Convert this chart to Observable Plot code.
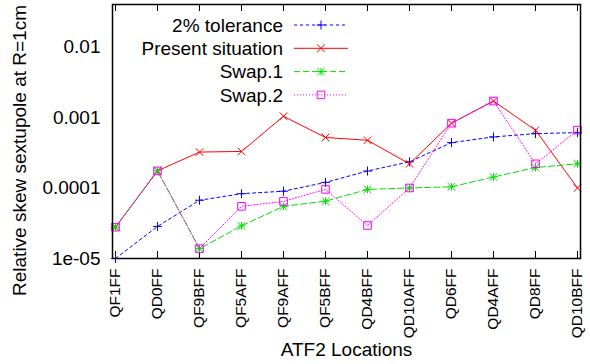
<!DOCTYPE html>
<html><head><meta charset="utf-8">
<script src="https://cdn.jsdelivr.net/npm/d3@7"></script>
<script src="https://cdn.jsdelivr.net/npm/@observablehq/plot@0.6"></script>
<style>body{margin:0;background:#fff} svg{display:block}</style>
</head><body><div id="chart"></div>
<script>
const locations = ["QF1FF","QD0FF","QF9BFF","QF5AFF","QF9AFF","QF5BFF","QD4BFF","QD10AFF","QD6FF","QD4AFF","QD8FF","QD10BFF"];
const tolerance2 = [1.0e-5, 2.85e-5, 6.7e-5, 8.3e-5, 9.0e-5, 1.2e-4, 1.74e-4, 2.35e-4, 4.4e-4, 5.3e-4, 5.9e-4, 6.1e-4];
const present    = [2.78e-5, 1.75e-4, 3.23e-4, 3.3e-4, 1.04e-3, 5.2e-4, 4.75e-4, 2.2e-4, 8.3e-4, 1.71e-3, 6.6e-4, 1.0e-4];
const swap1      = [2.78e-5, 1.75e-4, 1.38e-5, 2.9e-5, 5.5e-5, 6.5e-5, 9.55e-5, 1.0e-4, 1.04e-4, 1.43e-4, 1.95e-4, 2.2e-4];
const swap2      = [2.78e-5, 1.75e-4, 1.38e-5, 5.5e-5, 6.45e-5, 9.55e-5, 2.94e-5, 1.0e-4, 8.3e-4, 1.71e-3, 2.2e-4, 6.6e-4];
const seriesNames = ["2% tolerance","Present situation","Swap.1","Swap.2"];
const yTickValues = [1e-5, 1e-4, 1e-3, 1e-2];
const yTickLabels = ["1e-05","0.0001","0.001","0.01"];
const xLabel = "ATF2 Locations";
const yLabel = "Relative skew sextupole at R=1cm";

// gnuplot-like point symbols (r = half extent in px)
const rad = size => Math.sqrt(size / Math.PI);
const symPlus = {draw(c, s){const r = rad(s); c.moveTo(-r,0); c.lineTo(r,0); c.moveTo(0,-r); c.lineTo(0,r);}};
const symTimes = {draw(c, s){const r = rad(s); c.moveTo(-r,-r); c.lineTo(r,r); c.moveTo(-r,r); c.lineTo(r,-r);}};
const symSquare = {draw(c, s){const r = rad(s); c.moveTo(-r,-r); c.lineTo(r,-r); c.lineTo(r,r); c.lineTo(-r,r); c.closePath();}};

const series = [
  {name: seriesNames[0], values: tolerance2, color: "#0000ff", dash: "3,3", symbols: [symPlus], r: 4.5},
  {name: seriesNames[1], values: present, color: "#ff0000", dash: null, symbols: [symTimes], r: 3.8},
  {name: seriesNames[2], values: swap1, color: "#00e000", dash: "6,3", symbols: [symPlus, symTimes], r: 3.8},
  {name: seriesNames[3], values: swap2, color: "#ff00ff", dash: "1,2", symbols: [symSquare], r: 3.8}
];

const W = 590, H = 364;
const mL = 112, mR = 10, mT = 4, mB = 106;
const yDomain = [1e-5, 0.04];

// minor log ticks
const minor = [];
for (let e = -5; e <= -2; e++) for (let k = 2; k <= 9; k++) {
  const v = k * Math.pow(10, e);
  if (v < yDomain[1]) minor.push(v);
}
const first = locations[0], last = locations[locations.length - 1];

const marks = [];
// ticks (inward, mirrored)
marks.push(Plot.ruleY(yTickValues, {y: d => d, x1: first, x2: first, insetRight: -7, stroke: "black"}));
marks.push(Plot.ruleY(yTickValues, {y: d => d, x1: last, x2: last, insetLeft: -7, stroke: "black"}));
marks.push(Plot.ruleY(minor, {y: d => d, x1: first, x2: first, insetRight: -3.5, stroke: "black"}));
marks.push(Plot.ruleY(minor, {y: d => d, x1: last, x2: last, insetLeft: -3.5, stroke: "black"}));
marks.push(Plot.ruleX(locations, {x: d => d, y1: yDomain[0], y2: yDomain[0], insetBottom: 7, stroke: "black"}));
marks.push(Plot.ruleX(locations, {x: d => d, y1: yDomain[1], y2: yDomain[1], insetBottom: -7, stroke: "black"}));

series.forEach(s => {
  const data = locations.map((loc, i) => ({loc, v: s.values[i]}));
  marks.push(Plot.line(data, {x: "loc", y: "v", stroke: s.color, strokeWidth: 1, strokeDasharray: s.dash}));
  s.symbols.forEach(sym => marks.push(Plot.dot(data, {x: "loc", y: "v", symbol: sym, r: s.r, stroke: s.color, fill: "none", strokeWidth: 1})));
});

marks.push(Plot.frame({stroke: "black", strokeWidth: 1.5}));
marks.push(Plot.axisY({ticks: yTickValues, tickFormat: d => yTickLabels[yTickValues.indexOf(d)], tickSize: 0, tickPadding: 12, fontSize: 19, label: null}));
marks.push(Plot.axisX({tickSize: 0, tickPadding: 10, tickRotate: -90, fontSize: 15.5, label: null}));
marks.push(Plot.text([xLabel], {text: d => d, frameAnchor: "bottom", dy: 97, lineAnchor: "bottom", textAnchor: "middle", fontSize: 19}));
marks.push(Plot.text([yLabel], {text: d => d, frameAnchor: "left", rotate: -90, dx: -87, dy: 19, lineAnchor: "bottom", textAnchor: "middle", fontSize: 19}));

const plot = Plot.plot({
  width: W, height: H,
  marginLeft: mL, marginRight: mR, marginTop: mT, marginBottom: mB,
  style: {fontFamily: "'Liberation Sans', Arial, sans-serif", fontSize: "19px", background: "white", color: "black"},
  x: {type: "point", domain: locations, padding: 0, inset: 0},
  y: {type: "log", domain: yDomain},
  marks
});

// legend (inside top-left of the frame, gnuplot style)
const svg = d3.select(plot);
const lg = svg.append("g").attr("font-size", 19).attr("fill", "black");
series.forEach((s, i) => {
  const cy = 25 + i * 23.3;
  lg.append("text").attr("x", 283).attr("y", cy).attr("dy", "0.35em").attr("text-anchor", "end").text(s.name);
  lg.append("line").attr("x1", 294).attr("x2", 348).attr("y1", cy).attr("y2", cy)
    .attr("stroke", s.color).attr("stroke-width", 1).attr("stroke-dasharray", s.dash);
  s.symbols.forEach(sym => {
    const p = d3.path();
    sym.draw(p, Math.PI * s.r * s.r);
    lg.append("path").attr("d", p.toString()).attr("transform", `translate(321,${cy})`)
      .attr("fill", "none").attr("stroke", s.color).attr("stroke-width", 1);
  });
});

document.getElementById("chart").appendChild(plot);
</script>
</body></html>
